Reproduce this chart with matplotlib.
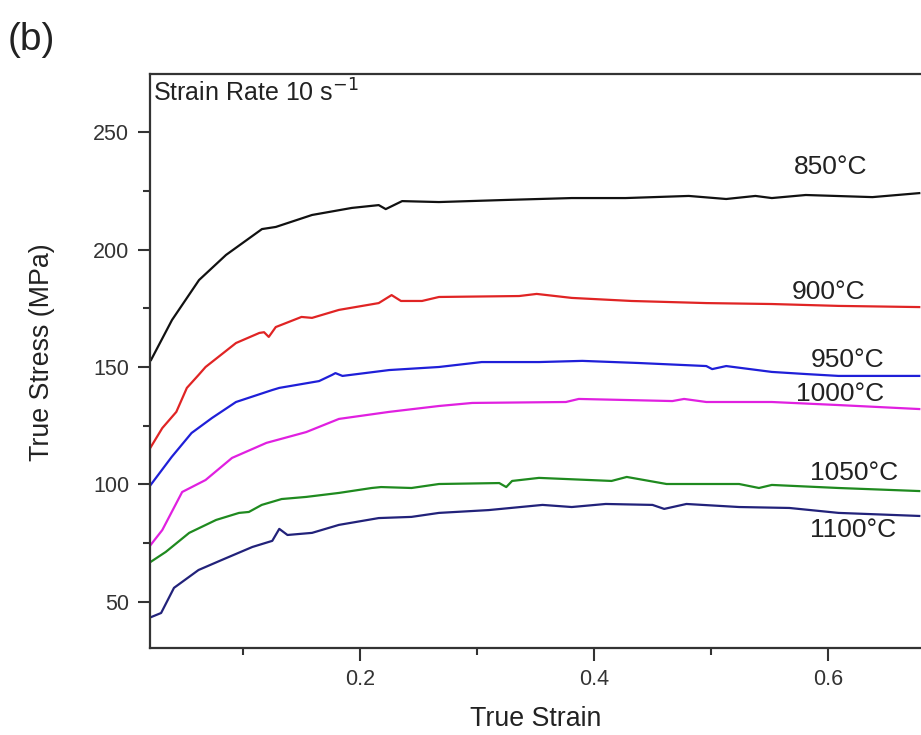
import matplotlib
matplotlib.use("Agg")
import matplotlib.pyplot as plt
from matplotlib.ticker import MultipleLocator

plt.rcParams['font.family'] = ['Liberation Sans', 'DejaVu Sans']

# ---- data ----
x850 = [0.0214, 0.0393, 0.0624, 0.0855, 0.1162, 0.128, 0.159, 0.193, 0.216, 0.222, 0.236,
        0.2675, 0.325, 0.381, 0.427, 0.481, 0.513, 0.538, 0.552, 0.581, 0.638, 0.678]
y850 = [153.0, 170.0, 187.0, 197.7, 208.7, 209.6, 214.7, 217.7, 218.9, 217.2, 220.6,
        220.2, 221.1, 221.9, 221.9, 222.8, 221.5, 222.8, 221.9, 223.2, 222.3, 224.0]

x900 = [0.0197, 0.031, 0.043, 0.052, 0.062, 0.068, 0.094, 0.114, 0.118, 0.122, 0.128, 0.150,
        0.159, 0.182, 0.216, 0.227, 0.235, 0.253, 0.2675, 0.336, 0.351, 0.381, 0.432, 0.496,
        0.552, 0.609, 0.678]
y900 = [114.7, 124.0, 130.9, 141.1, 146.6, 150.0, 160.2, 164.5, 164.8, 162.8, 167.0, 171.3,
        170.9, 174.3, 177.2, 180.6, 178.1, 178.1, 179.8, 180.2, 181.1, 179.4, 178.1, 177.2,
        176.8, 176.0, 175.5]

x950 = [0.0197, 0.039, 0.056, 0.0735, 0.094, 0.125, 0.131, 0.165, 0.176, 0.179, 0.185, 0.225,
        0.2675, 0.304, 0.353, 0.390, 0.438, 0.496, 0.501, 0.513, 0.552, 0.581, 0.609, 0.678]
y950 = [98.9, 111.7, 121.9, 128.3, 135.1, 140.2, 141.1, 144.0, 146.6, 147.4, 146.2, 148.7,
        150.0, 152.1, 152.1, 152.6, 151.7, 150.4, 149.1, 150.4, 147.9, 147.0, 146.2, 146.2]

x1000 = [0.0197, 0.031, 0.048, 0.068, 0.0906, 0.120, 0.154, 0.182, 0.225, 0.2675, 0.296,
         0.376, 0.387, 0.467, 0.477, 0.496, 0.552, 0.609, 0.678]
y1000 = [73.4, 80.6, 96.8, 101.9, 111.3, 117.7, 122.3, 127.9, 130.9, 133.4, 134.7,
         135.1, 136.4, 135.5, 136.4, 135.1, 135.1, 133.8, 132.1]

x1050 = [0.0197, 0.034, 0.054, 0.077, 0.0966, 0.105, 0.116, 0.133, 0.154, 0.182, 0.210, 0.218,
         0.244, 0.2675, 0.319, 0.325, 0.330, 0.353, 0.415, 0.428, 0.462, 0.524, 0.541, 0.552,
         0.609, 0.678]
y1050 = [66.6, 71.3, 79.4, 84.9, 87.9, 88.3, 91.3, 93.8, 94.7, 96.4, 98.5, 98.9,
         98.5, 100.2, 100.6, 98.9, 101.5, 102.8, 101.5, 103.2, 100.2, 100.2, 98.5, 99.8,
         98.5, 97.2]

x1100 = [0.0197, 0.030, 0.041, 0.062, 0.082, 0.108, 0.125, 0.131, 0.138, 0.159, 0.182, 0.216,
         0.244, 0.2675, 0.310, 0.356, 0.381, 0.410, 0.450, 0.460, 0.479, 0.524, 0.567, 0.609,
         0.678]
y1100 = [43.2, 45.3, 56.0, 63.6, 67.9, 73.4, 76.0, 81.1, 78.5, 79.4, 82.8, 85.7,
         86.2, 87.9, 89.1, 91.3, 90.4, 91.7, 91.3, 89.6, 91.7, 90.4, 90.0, 87.9,
         86.6]

labels = ['850\u00b0C', '900\u00b0C', '950\u00b0C', '1000\u00b0C', '1050\u00b0C', '1100\u00b0C']
label_x = [0.571, 0.569, 0.585, 0.573, 0.585, 0.585]
label_y = [235.1, 181.9, 153.0, 138.5, 104.9, 80.6]

xtick_vals = [0.2, 0.4, 0.6]
xtick_labels = ['0.2', '0.4', '0.6']

series = [(x850, y850), (x900, y900), (x950, y950), (x1000, y1000), (x1050, y1050), (x1100, y1100)]
colors = ['#111111', '#e02424', '#1f1fd8', '#e020e0', '#1f8a1f', '#22227a']

fig = plt.figure(figsize=(9.21, 7.35), dpi=100)
ax = fig.add_axes([150/921, 1 - 648/735, 1 - 150/921, (648 - 74)/735])

for (xs, ys), c in zip(series, colors):
    ax.plot(xs, ys, color=c, lw=1.6)

for t, lx, ly in zip(labels, label_x, label_y):
    ax.text(lx, ly, t, fontsize=19, color='#222222', ha='left', va='center')

ax.set_xlim(0.0205, 0.6795)
ax.set_ylim(30.4, 274.7)
ax.xaxis.set_minor_locator(MultipleLocator(0.1))
ax.yaxis.set_major_locator(MultipleLocator(50))
ax.yaxis.set_minor_locator(MultipleLocator(25))
ax.set_xticks(xtick_vals)
ax.set_xticklabels(xtick_labels)

ax.tick_params(which='major', direction='out', length=9, width=1.5, labelsize=15.5,
               labelcolor='#333333', color='#333333', pad=6)
ax.tick_params(which='minor', direction='out', length=5, width=1.5, color='#333333')
ax.tick_params(axis='y', which='both', right=False)
ax.tick_params(axis='x', which='both', top=False)

for s in ['left', 'bottom', 'top']:
    ax.spines[s].set_linewidth(1.6)
    ax.spines[s].set_color('#333333')
ax.spines['right'].set_visible(False)

ax.set_xlabel('True Strain', fontsize=19.3, color='#222222', labelpad=12)
ax.set_ylabel('True Stress (MPa)', fontsize=19.3, color='#222222')
ax.yaxis.set_label_coords(-0.123, 0.515)

ax.text(0.004, 0.99, 'Strain Rate 10 s$^{-1}$',
        transform=ax.transAxes, fontsize=18, color='#222222', ha='left', va='top')

fig.text(0.008, 0.97, '(b)', fontsize=28, color='#222222', ha='left', va='top')

fig.savefig('out.png', dpi=100)
